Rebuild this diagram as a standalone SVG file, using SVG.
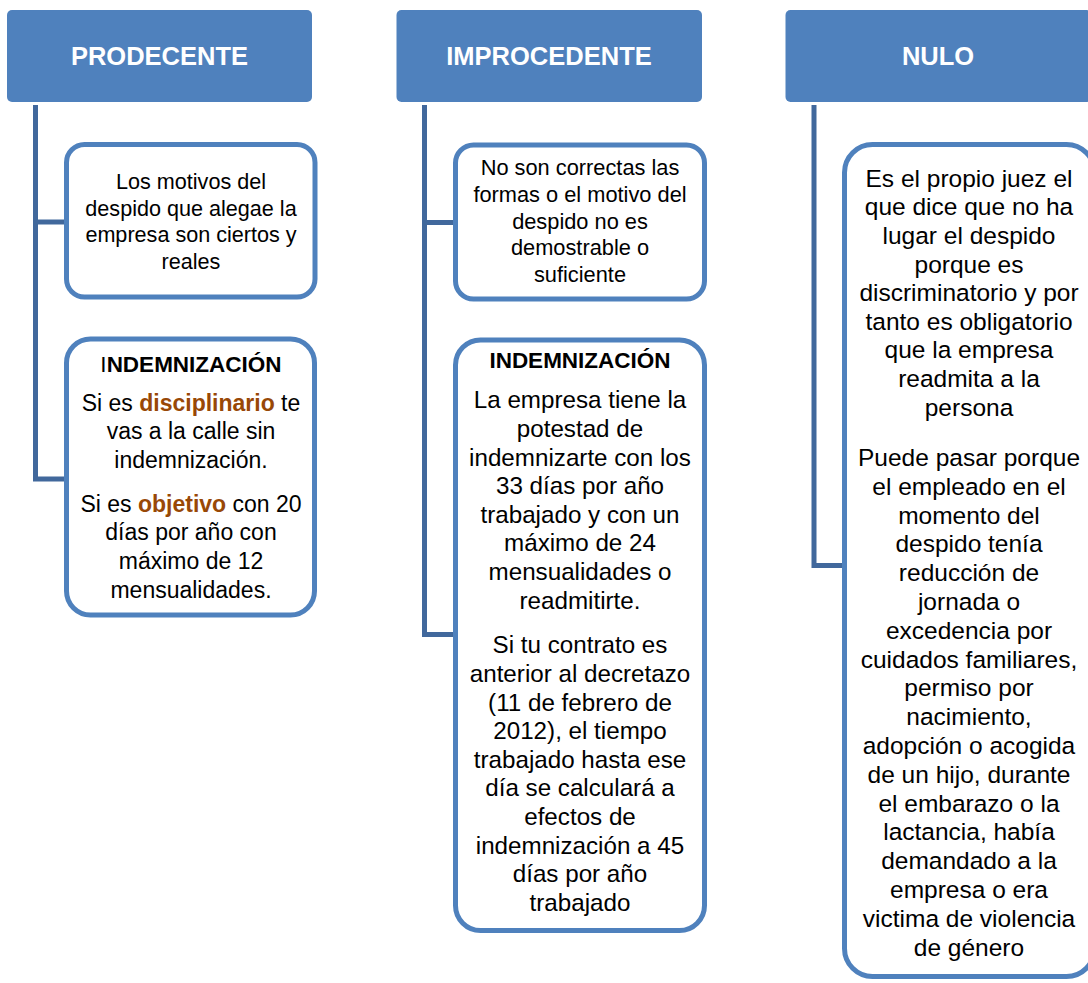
<svg xmlns="http://www.w3.org/2000/svg" width="1088" height="983" viewBox="0 0 1088 983">
<style>
.hdr{fill:#4F81BD}
.htx{font-family:"Liberation Sans",Arial,sans-serif;font-weight:bold;font-size:25.5px;fill:#FFFFFF;text-anchor:middle}
.box{fill:#FFFFFF;stroke:#4F81BD;stroke-width:5}
.con{fill:none;stroke:#41689C;stroke-width:5}
.t{font-family:"Liberation Sans",Arial,sans-serif;fill:#000000;text-anchor:middle}
.s1{font-size:21.6px}
.s2{font-size:23px}
.s3{font-size:24.2px}
.s4{font-size:24.5px}
.b{font-weight:bold}
.n{font-weight:normal}
.o{font-weight:bold;fill:#984806}
</style>
<rect width="1088" height="983" fill="#FFFFFF"/>
<g id="connectors">
<path class="con" d="M35.5 105 V479 H66"/>
<path class="con" d="M35.5 222 H66"/>
<path class="con" d="M424.5 105 V634.5 H455"/>
<path class="con" d="M424.5 222.5 H455"/>
<path class="con" d="M814 105 V565.5 H844"/>
</g>
<g id="h-prodecente">
<rect class="hdr" x="7" y="10" width="305" height="92" rx="5"/>
<text class="htx" x="159.5" y="65">PRODECENTE</text>
</g>
<g id="h-improcedente">
<rect class="hdr" x="396.5" y="10" width="305.5" height="92" rx="5"/>
<text class="htx" x="549" y="65">IMPROCEDENTE</text>
</g>
<g id="h-nulo">
<rect class="hdr" x="785.5" y="10" width="306" height="92" rx="5"/>
<text class="htx" x="938" y="65">NULO</text>
</g>
<g id="p-motivos">
<rect class="box" x="66.5" y="144.5" width="248.5" height="152.5" rx="18"/>
<text class="t s1"><tspan x="191" y="189">Los motivos del</tspan><tspan x="191" y="215.5">despido que alegae la</tspan><tspan x="191" y="242">empresa son ciertos y</tspan><tspan x="191" y="268.5">reales</tspan></text>
</g>
<g id="p-indemnizacion">
<rect class="box" x="66.5" y="339" width="248" height="276" rx="24"/>
<text class="t b" style="font-size:22.5px" x="191" y="371.5"><tspan class="n">I</tspan>NDEMNIZACIÓN</text>
<text class="t s2"><tspan x="191" y="410.7">Si es <tspan class="o">disciplinario</tspan> te</tspan><tspan x="191" y="439.3">vas a la calle sin</tspan><tspan x="191" y="468">indemnización.</tspan><tspan x="191" y="511.7">Si es <tspan class="o">objetivo</tspan> con 20</tspan><tspan x="191" y="540.3">días por año con</tspan><tspan x="191" y="569">máximo de 12</tspan><tspan x="191" y="597.7">mensualidades.</tspan></text>
</g>
<g id="i-motivo">
<rect class="box" x="455.5" y="145" width="249" height="154" rx="18"/>
<text class="t" style="font-size:21.8px"><tspan x="580" y="175">No son correctas las</tspan><tspan x="580" y="202">formas o el motivo del</tspan><tspan x="580" y="228.5">despido no es</tspan><tspan x="580" y="255">demostrable o</tspan><tspan x="580" y="281.5">suficiente</tspan></text>
</g>
<g id="i-indemnizacion">
<rect class="box" x="455.5" y="340" width="249" height="590.5" rx="25"/>
<text class="t b" style="font-size:22.5px" x="580" y="368.3">INDEMNIZACIÓN</text>
<text class="t s3"><tspan x="580" y="408.3">La empresa tiene la</tspan><tspan x="580" y="437">potestad de</tspan><tspan x="580" y="465.6">indemnizarte con los</tspan><tspan x="580" y="494.2">33 días por año</tspan><tspan x="580" y="522.8">trabajado y con un</tspan><tspan x="580" y="551.4">máximo de 24</tspan><tspan x="580" y="580">mensualidades o</tspan><tspan x="580" y="608.6">readmitirte.</tspan><tspan x="580" y="653.3">Si tu contrato es</tspan><tspan x="580" y="681.9">anterior al decretazo</tspan><tspan x="580" y="710.5">(11 de febrero de</tspan><tspan x="580" y="739.1">2012), el tiempo</tspan><tspan x="580" y="767.7">trabajado hasta ese</tspan><tspan x="580" y="796.3">día se calculará a</tspan><tspan x="580" y="824.9">efectos de</tspan><tspan x="580" y="853.5">indemnización a 45</tspan><tspan x="580" y="882.1">días por año</tspan><tspan x="580" y="910.7">trabajado</tspan></text>
</g>
<g id="n-detalle">
<rect class="box" x="844.5" y="144.5" width="250" height="832" rx="28"/>
<text class="t s4"><tspan x="969" y="186.7">Es el propio juez el</tspan><tspan x="969" y="215.3">que dice que no ha</tspan><tspan x="969" y="243.9">lugar el despido</tspan><tspan x="969" y="272.5">porque es</tspan><tspan x="969" y="301.1">discriminatorio y por</tspan><tspan x="969" y="329.7">tanto es obligatorio</tspan><tspan x="969" y="358.3">que la empresa</tspan><tspan x="969" y="386.9">readmita a la</tspan><tspan x="969" y="415.5">persona</tspan><tspan x="969" y="466">Puede pasar porque</tspan><tspan x="969" y="494.8">el empleado en el</tspan><tspan x="969" y="523.6">momento del</tspan><tspan x="969" y="552.4">despido tenía</tspan><tspan x="969" y="581.2">reducción de</tspan><tspan x="969" y="610">jornada o</tspan><tspan x="969" y="638.8">excedencia por</tspan><tspan x="969" y="667.6">cuidados familiares,</tspan><tspan x="969" y="696.4">permiso por</tspan><tspan x="969" y="725.2">nacimiento,</tspan><tspan x="969" y="754">adopción o acogida</tspan><tspan x="969" y="782.8">de un hijo, durante</tspan><tspan x="969" y="811.6">el embarazo o la</tspan><tspan x="969" y="840.4">lactancia, había</tspan><tspan x="969" y="869.2">demandado a la</tspan><tspan x="969" y="898">empresa o era</tspan><tspan x="969" y="926.8">victima de violencia</tspan><tspan x="969" y="955.6">de género</tspan></text>
</g>
</svg>
